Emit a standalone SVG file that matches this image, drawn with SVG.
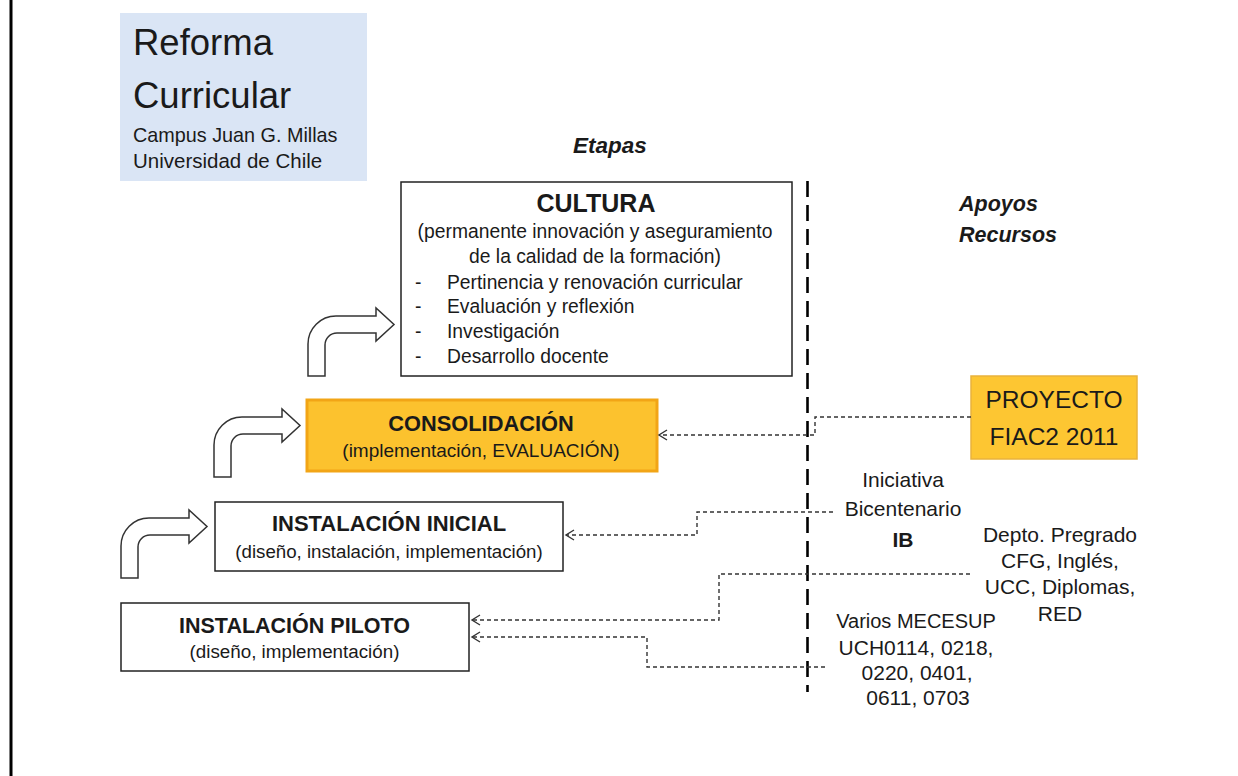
<svg xmlns="http://www.w3.org/2000/svg" width="1238" height="776" viewBox="0 0 1238 776">
<style>
text{font-family:"Liberation Sans",Arial,sans-serif;fill:#1a1a1a}
.c{text-anchor:middle}
.b{font-weight:bold}
.bi{font-weight:bold;font-style:italic}
.box{fill:#fff;stroke:#222;stroke-width:1.5}
.orange{fill:#fcc22e;stroke:#f2a516;stroke-width:3}
.orange2{fill:#fdc632;stroke:#e9b23c;stroke-width:1.5}
.bend{fill:#fff;stroke:#333;stroke-width:1.5;stroke-linejoin:miter}
.conn{fill:none;stroke:#333;stroke-width:1.4;stroke-dasharray:4 3}
.t19{font-size:19.3px}
</style>
<defs>
<marker id="chev" markerUnits="userSpaceOnUse" markerWidth="12" markerHeight="14" refX="9" refY="6" orient="auto">
<path d="M1,1 L9,6 L1,11" fill="none" stroke="#333" stroke-width="1.4"/>
</marker>
<path id="bent" d="M0,0 V-32 A28,28 0 0 1 28,-60 H68 V-68 L86,-51.5 L68,-35 V-43 H29 A12,12 0 0 0 17,-31 V0 Z"/>
</defs>
<rect width="1238" height="776" fill="#fff"/>
<line x1="11" y1="0" x2="11" y2="776" stroke="#000" stroke-width="3"/>

<g id="title">
<rect x="120" y="13" width="247" height="168" fill="#dae5f5"/>
<text x="133" y="55" style="font-size:36.5px">Reforma</text>
<text x="133" y="108" style="font-size:36.5px">Curricular</text>
<text x="133" y="142" style="font-size:19.8px">Campus Juan G. Millas</text>
<text x="133" y="167.5" style="font-size:20.5px">Universidad de Chile</text>
</g>

<g id="headers">
<text x="573" y="153" class="bi" style="font-size:22.5px">Etapas</text>
<text x="959" y="211" class="bi" style="font-size:21.5px">Apoyos</text>
<text x="959" y="241.5" class="bi" style="font-size:21.5px">Recursos</text>
</g>

<g id="divider">
<line x1="807.5" y1="181" x2="807.5" y2="692" stroke="#000" stroke-width="2.6" stroke-dasharray="16 8"/>
</g>

<g id="bent-arrows">
<use href="#bent" class="bend" transform="translate(308,376)"/>
<use href="#bent" class="bend" transform="translate(214,477)"/>
<use href="#bent" class="bend" transform="translate(121,578)"/>
</g>

<g id="cultura">
<rect x="401" y="182" width="391" height="194" class="box"/>
<text x="596" y="212" class="c b" style="font-size:25px">CULTURA</text>
<text x="595" y="238" class="c t19">(permanente innovación y aseguramiento</text>
<text x="595" y="263" class="c t19">de la calidad de la formación)</text>
<text x="415" y="289" class="t19">-</text>
<text x="447" y="289" class="t19">Pertinencia y renovación curricular</text>
<text x="415" y="313" class="t19">-</text>
<text x="447" y="313" class="t19">Evaluación y reflexión</text>
<text x="415" y="338" class="t19">-</text>
<text x="447" y="338" class="t19">Investigación</text>
<text x="415" y="363" class="t19">-</text>
<text x="447" y="363" class="t19">Desarrollo docente</text>
</g>

<g id="consolidacion">
<rect x="307" y="400" width="350" height="71" class="orange"/>
<text x="481" y="431" class="c b" style="font-size:21.8px">CONSOLIDACIÓN</text>
<text x="481" y="457" class="c" style="font-size:19px">(implementación, EVALUACIÓN)</text>
</g>

<g id="instalacion-inicial">
<rect x="215" y="502" width="348" height="69" class="box"/>
<text x="389" y="531" class="c b" style="font-size:22px">INSTALACIÓN INICIAL</text>
<text x="389" y="558" class="c" style="font-size:18.7px">(diseño, instalación, implementación)</text>
</g>

<g id="instalacion-piloto">
<rect x="121" y="603" width="348" height="68" class="box"/>
<text x="294.5" y="633" class="c b" style="font-size:21.5px">INSTALACIÓN PILOTO</text>
<text x="294.5" y="658" class="c" style="font-size:18.8px">(diseño, implementación)</text>
</g>

<g id="proyecto-fiac">
<rect x="971" y="376" width="166" height="83" class="orange2"/>
<text x="1054" y="408" class="c" style="font-size:24.5px">PROYECTO</text>
<text x="1054" y="445" class="c" style="font-size:24.5px">FIAC2 2011</text>
</g>

<g id="iniciativa-bicentenario">
<text x="903" y="487" class="c" style="font-size:21px">Iniciativa</text>
<text x="903" y="516" class="c" style="font-size:21px">Bicentenario</text>
<text x="903" y="547" class="c b" style="font-size:21px">IB</text>
</g>

<g id="depto-pregrado">
<text x="1060" y="542" class="c" style="font-size:21px">Depto. Pregrado</text>
<text x="1060" y="568" class="c" style="font-size:21px">CFG, Inglés,</text>
<text x="1060" y="594" class="c" style="font-size:21px">UCC, Diplomas,</text>
<text x="1060" y="621" class="c" style="font-size:21px">RED</text>
</g>

<g id="mecesup">
<text x="916" y="628" class="c" style="font-size:20px">Varios MECESUP</text>
<text x="916" y="655" class="c" style="font-size:21px">UCH0114, 0218,</text>
<text x="917" y="680" class="c" style="font-size:21px">0220, 0401,</text>
<text x="918" y="705" class="c" style="font-size:21px">0611, 0703</text>
</g>

<g id="connectors">
<path class="conn" d="M971,417 H815 V435 H659" marker-end="url(#chev)"/>
<path class="conn" d="M833,512 H697 V535 H566" marker-end="url(#chev)"/>
<path class="conn" d="M970,574 H719 V620 H472" marker-end="url(#chev)"/>
<path class="conn" d="M825,667 H647 V637 H472" marker-end="url(#chev)"/>
</g>
</svg>
